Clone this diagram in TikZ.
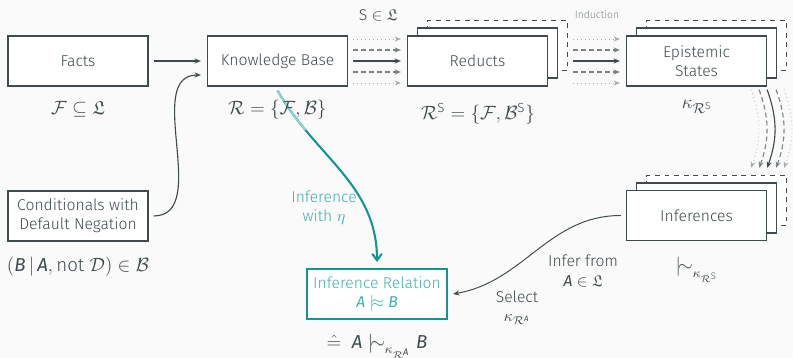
\documentclass[tikz,border=0pt]{standalone}
\usepackage{amsmath,amssymb}
\usepackage{fontspec}
\setmainfont{Fira Sans}[UprightFont=* Light, ItalicFont=* Light Italic, BoldFont=*]
\newfontfamily\firareg{Fira Sans}
\usetikzlibrary{arrows.meta,positioning}

\definecolor{bgc}{HTML}{FAFAFA}
\definecolor{ink}{HTML}{3E4A4D}
\definecolor{inkfaint}{HTML}{A9AEAF}
\definecolor{inkhalf}{HTML}{7A8486}
\definecolor{tealdark}{HTML}{14958F}
\definecolor{teallight}{HTML}{3DB2AC}
\definecolor{tealpale}{HTML}{8ED3CF}

% letters of the logic, set in the sans italic
\newcommand\lit[1]{\text{\firareg\itshape #1}}
\newcommand\snake{\mathrel{{\vert}\mkern-3mu{\sim}}}
\newcommand\snakeapprox{\mathrel{{\vert}\mkern-3mu{\approx}}}

\tikzset{
    box/.style={draw=ink, fill=white, line width=0.7pt, text=ink, align=center,
        minimum width=87.5pt, minimum height=31.25pt},
    ghost/.style={box, dashed},
    result/.style={box, draw=tealdark, line width=1.3pt, text=teallight},
    lbl/.style={text=ink, align=center},
    formula/.style={lbl, font=\fontsize{11.7}{14}\selectfont},
    tip/.style={-{Stealth[length=4pt,width=3.2pt]}},
    full/.style={tip, ink, line width=0.7pt},
    half/.style={tip, inkhalf, line width=0.7pt, dash pattern=on 3pt off 2pt},
    faint/.style={tip, inkfaint, line width=0.5pt, dotted}
}

\begin{document}
\begin{tikzpicture}[x=0.625pt, y=0.625pt, font=\fontsize{9.8}{12}\selectfont]
    \path[fill=bgc, use as bounding box] (0,0) rectangle (793,-358);

    % first row
    \node[box] (facts) at (78,-61) {Facts};
    \node[box] (kb) at (277.5,-61) {Knowledge Base};
    \node[ghost] (red3) at (497.5,-45.5) {};
    \node[box] (red2) at (487.5,-53) {};
    \node[box] (red1) at (477.5,-61) {Reducts};
    \node[ghost] (es3) at (716.5,-45.5) {};
    \node[box] (es2) at (706.5,-53) {};
    \node[box] (es1) at (696.5,-61) {Epistemic\\States};

    % second row
    \node[box] (cond) at (78,-216) {Conditionals with\\Default Negation};
    \node[ghost] (inf3) at (716.5,-200.5) {};
    \node[box] (inf2) at (706.5,-208) {};
    \node[box] (inf1) at (696.5,-215.5) {Inferences};
    \node[result] (rel) at (377,-294) {Inference Relation\\$\lit{A}\snakeapprox\lit{B}$};

    % formulas under the boxes
    \node[formula] (factsf) at (78,-109) {$\mathcal{F}\subseteq\mathfrak{L}$};
    \node[formula] (redf) at (478,-114) {$\mathcal{R}^{\mathrm{S}}=\{\mathcal{F},\mathcal{B}^{\mathrm{S}}\}$};
    \node[formula, font=\fontsize{12.5}{14}\selectfont] (esf) at (697,-107) {$\kappa_{\mathcal{R}^{\mathrm{S}}}$};
    \node[lbl] (sl) at (378,-15) {$\mathrm{S}\in\mathfrak{L}$};
    \node[lbl, text=inkhalf, font=\fontsize{6.5}{8}\selectfont] (ind) at (597,-15) {Induction};
    \node[formula] (condf) at (78,-267) {$(\lit{B}\,|\,\lit{A},\mathrm{not}\;\mathcal{D})\in\mathcal{B}$};
    \node[formula] (inff) at (697,-270) {$\snake_{\kappa_{\mathcal{R}^{\mathrm{S}}}}$};
    \node[formula] (relf) at (377,-346) {$\mathrel{\hat{=}}\;\lit{A}\snake_{\kappa_{\mathcal{R}^{\lit{A}}}}\lit{B}$};
    \node[lbl] (infer) at (583,-271) {Infer from\\$\lit{A}\in\mathfrak{L}$};
    \node[lbl] (select) at (517,-308) {Select\\$\kappa_{\mathcal{R}^{\lit{A}}}$};
    \node[lbl, text=teallight] (eta) at (324,-208) {Inference\\with $\eta$};

    \draw[full] ([shift={(5,0)}]facts.east) -- ([shift={(-6,0)}]kb.west);
    \draw[full] ([shift={(5,0)}]cond.east) to[out=0,in=180] ([shift={(-6,-14)}]kb.west);

    \foreach \dy/\kind in {22/faint, 11/half, 0/full, -11/half, -22/faint} {
        \draw[\kind] ([shift={(5,\dy)}]kb.east) -- ([shift={(-6,\dy)}]red1.west);
        \draw[\kind] ([shift={(25,\dy)}]red1.east) -- ([shift={(-6,\dy)}]es1.west);
    }
    \foreach \dx/\kind in {-16/faint, -8/half, 0/full, 9/half, 17/faint}
        \draw[\kind] ([shift={(\dx,-3)}]es1.south east) to[out=-70,in=70] ([shift={(\dx,22)}]inf1.north east);

    \draw[full, line width=0.6pt] ([shift={(-5,0)}]inf1.west) to[out=180,in=10] ([shift={(5,0)}]rel.east);

    % the shortcut, paler where it leaves the knowledge base
    \draw[tealdark, line width=1.3pt, -{Straight Barb[length=4pt,width=6pt]}]
        ([shift={(0,-4)}]kb.south) to[out=-60,in=90] ([shift={(0,6)}]rel.north);
    \begin{scope}
        \clip (200,-88) rectangle (340,-130);
        \draw[tealpale, line width=1.3pt] ([shift={(0,-4)}]kb.south) to[out=-60,in=90] ([shift={(0,6)}]rel.north);
    \end{scope}
    \node[formula] (kbf) at (277.5,-110) {$\mathcal{R}=\{\mathcal{F},\mathcal{B}\}$};
\end{tikzpicture}
\end{document}
